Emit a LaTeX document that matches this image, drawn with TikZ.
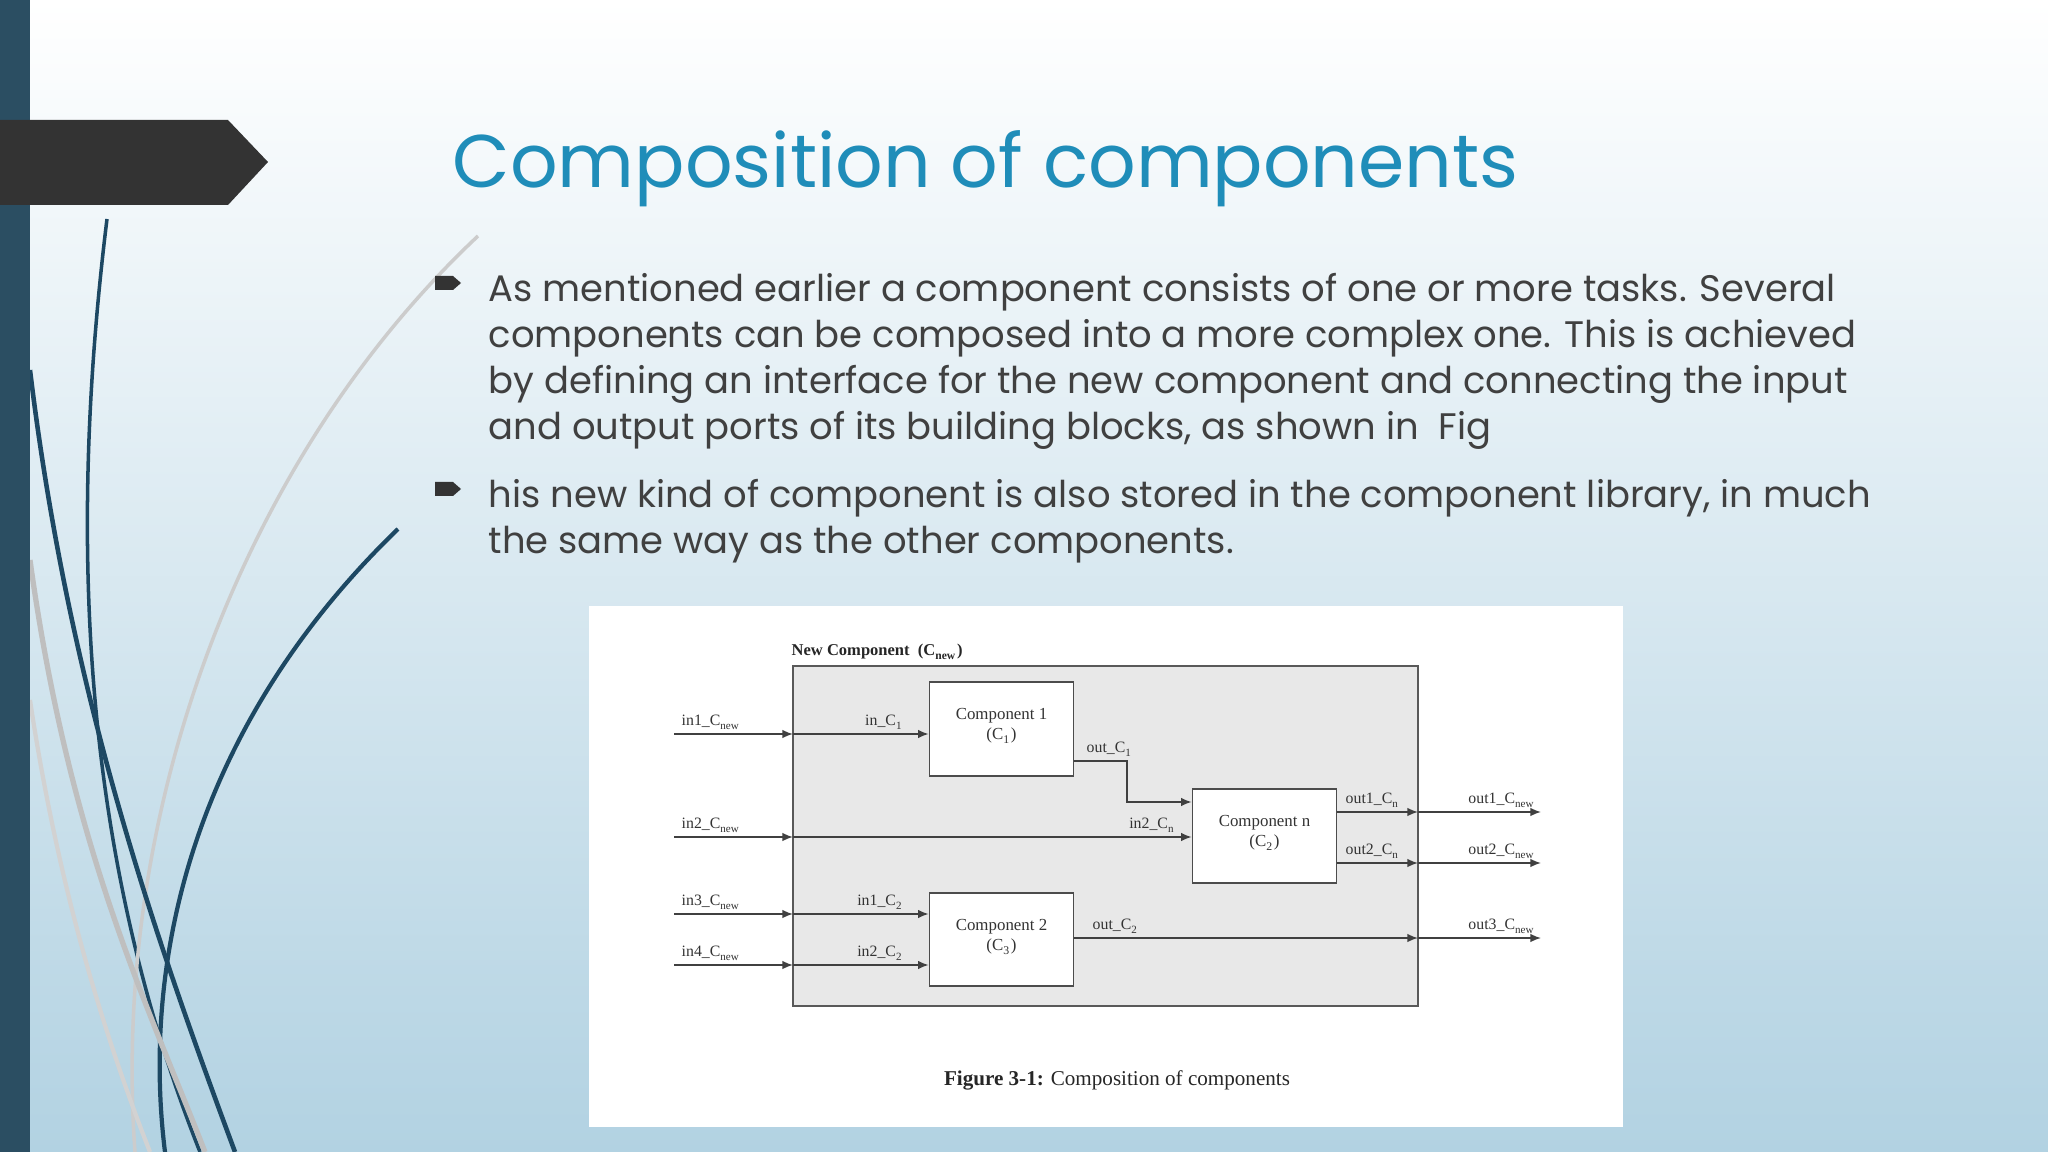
\documentclass[tikz,border=0pt]{standalone}
\usepackage{fontspec}
\setmainfont{Poppins}
\newfontfamily\figfont{Liberation Serif}
\usetikzlibrary{arrows.meta}
\definecolor{titleblue}{HTML}{1F8DB9}
\definecolor{barblue}{HTML}{2B4E62}
\definecolor{navy}{HTML}{1D4863}
\definecolor{bgbot}{HTML}{B2D2E2}
\definecolor{boxgray}{HTML}{E8E8E8}
\begin{document}
\begin{tikzpicture}[x=0.01cm,y=-0.01cm,
  txt/.style={anchor=base west,inner sep=0pt,font=\fontsize{10.5}{12}\selectfont,text=black!75},
  comp/.style={draw=black!70,fill=white,line width=0.4pt,inner sep=0pt},
  lbl/.style={font=\figfont\fontsize{4.5}{5}\selectfont,inner sep=0pt,anchor=south,text=black!80},
  wire/.style={draw=black!75,line width=0.45pt,-{Latex[length=3pt,width=2.4pt]}},
  plain/.style={draw=black!75,line width=0.45pt}]
\useasboundingbox (0,0) rectangle (2048,1152);
\shade[top color=white,bottom color=bgbot] (0,0) rectangle (2048,1152);
% decorative curves
\draw[navy,line width=1pt] (107,219) .. controls (60,600) and (100,900) .. (200,1152);
\draw[navy,line width=1.2pt] (398,529) .. controls (200,720) and (140,950) .. (165,1152);
\draw[black!20,line width=1pt] (478,236) .. controls (250,450) and (110,800) .. (135,1152);
\draw[navy,line width=1.3pt] (30,370) .. controls (70,700) and (160,950) .. (235,1152);
\draw[gray!50,line width=1.5pt] (30,560) .. controls (70,850) and (150,1010) .. (205,1152);
\draw[gray!35,line width=1.2pt] (30,700) .. controls (60,900) and (110,1050) .. (150,1152);
\fill[barblue] (0,0) rectangle (30,1152);
\fill[black!80] (0,120) -- (228,120) -- (268,162) -- (228,205) -- (0,205) -- cycle;
\node[anchor=base west,inner sep=0pt,text=titleblue,font=\fontsize{21.2}{24}\selectfont] (title) at (452,188) {Composition of components};
% bullets
\foreach \yy in {290,496}{
 \fill[black!80] (435,\yy-14) -- (453,\yy-14) -- (461,\yy-7) -- (453,\yy) -- (435,\yy) -- cycle;}
\node[txt] (l1) at (488,302) {As mentioned earlier a component consists of one or more tasks. Several};
\node[txt] (l2) at (488,348) {components can be composed into a more complex one. This is achieved};
\node[txt] (l3) at (488,394) {by defining an interface for the new component and connecting the input};
\node[txt] (l4) at (488,440) {and output ports of its building blocks, as shown in \ Fig};
\node[txt] (l5) at (488,508) {his new kind of component is also stored in the component library, in much};
\node[txt] (l6) at (488,554) {the same way as the other components.};
% figure
\fill[white] (589,606) rectangle (1623,1127);
\draw[fill=boxgray,draw=black!65,line width=0.5pt] (793,666) rectangle (1418,1006);
\node[anchor=south west,inner sep=0pt,font=\figfont\bfseries\fontsize{4.7}{5}\selectfont,text=black!85] (ncl) at (791,660) {New Component \ (C\textsubscript{new})};
\node[comp,minimum width=41pt,minimum height=26.7pt] (c1) at (1001.5,729) {};
\node[comp,minimum width=41pt,minimum height=26.7pt] (cn) at (1264.5,836) {};
\node[comp,minimum width=41pt,minimum height=26.5pt] (c2) at (1001.5,939.5) {};
\node[font=\figfont\fontsize{4.8}{5.8}\selectfont,align=center,text=black!80] at (1001.5,726) {Component 1\\(C\textsubscript{1})};
\node[font=\figfont\fontsize{4.8}{5.8}\selectfont,align=center,text=black!80] at (1264.5,833) {Component n\\(C\textsubscript{2})};
\node[font=\figfont\fontsize{4.8}{5.8}\selectfont,align=center,text=black!80] at (1001.5,937) {Component 2\\(C\textsubscript{3})};
% coordinates
\coordinate (i1) at (674,734); \coordinate (b1) at (793,734);
\coordinate (i2) at (674,837); \coordinate (b2) at (793,837);
\coordinate (i3) at (674,914); \coordinate (b3) at (793,914);
\coordinate (i4) at (674,965); \coordinate (b4) at (793,965);
\draw[wire] (i1) -- (b1); \draw[wire] (b1) -- (c1.west|-b1);
\draw[wire] (i2) -- (b2); \draw[wire] (b2) -- (cn.west|-b2);
\draw[wire] (i3) -- (b3); \draw[wire] (b3) -- (c2.west|-b3);
\draw[wire] (i4) -- (b4); \draw[wire] (b4) -- (c2.west|-b4);
\coordinate (k1) at (1127,761); \coordinate (k2) at (1127,802);
\draw[wire] (c1.east|-k1) -- (k1) -- (k2) -- (cn.west|-k2);
\coordinate (o1) at (1418,812); \coordinate (e1) at (1541,812);
\coordinate (o2) at (1418,863); \coordinate (e2) at (1541,863);
\coordinate (o3) at (1418,938); \coordinate (e3) at (1541,938);
\draw[wire] (cn.east|-o1) -- (o1); \draw[wire] (o1) -- (e1);
\draw[wire] (cn.east|-o2) -- (o2); \draw[wire] (o2) -- (e2);
\draw[wire] (c2.east|-o3) -- (o3); \draw[wire] (o3) -- (e3);
% labels
\node[lbl,anchor=south west] at (681,730) {in1\_C\textsubscript{new}};
\node[lbl,anchor=south west] at (681,833) {in2\_C\textsubscript{new}};
\node[lbl,anchor=south west] at (681,910) {in3\_C\textsubscript{new}};
\node[lbl,anchor=south west] at (681,961) {in4\_C\textsubscript{new}};
\node[lbl,anchor=south east] at (904,730) {in\_C\textsubscript{1}};
\node[lbl,anchor=south east] at (1176,833) {in2\_C\textsubscript{n}};
\node[lbl,anchor=south east] at (904,910) {in1\_C\textsubscript{2}};
\node[lbl,anchor=south east] at (904,961) {in2\_C\textsubscript{2}};
\node[lbl,anchor=south west] at (1086,757) {out\_C\textsubscript{1}};
\node[lbl,anchor=south west] at (1345,808) {out1\_C\textsubscript{n}};
\node[lbl,anchor=south west] at (1345,859) {out2\_C\textsubscript{n}};
\node[lbl,anchor=south west] at (1092,934) {out\_C\textsubscript{2}};
\node[lbl,anchor=south east] at (1536,808) {out1\_C\textsubscript{new}};
\node[lbl,anchor=south east] at (1536,859) {out2\_C\textsubscript{new}};
\node[lbl,anchor=south east] at (1536,934) {out3\_C\textsubscript{new}};
\node[font=\figfont\fontsize{6}{7}\selectfont,text=black!85] (cap) at (1117,1080) {\textbf{Figure 3-1:} Composition of components};
\end{tikzpicture}
\end{document}
